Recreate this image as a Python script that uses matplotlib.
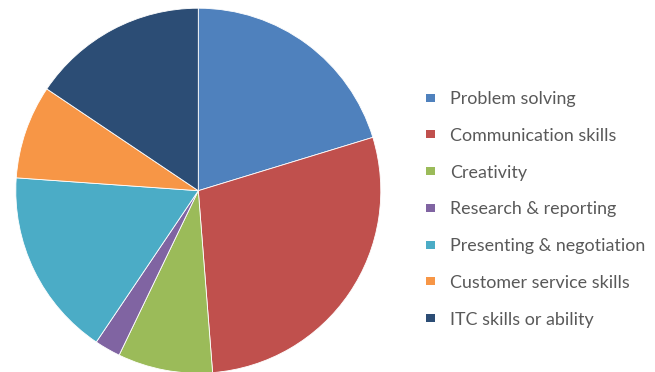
import matplotlib.pyplot as plt
from matplotlib.patches import Rectangle

labels = ['Problem solving', 'Communication skills', 'Creativity',
          'Research & reporting', 'Presenting & negotiation',
          'Customer service skills', 'ITC skills or ability']
values = [20.3, 28.5, 8.4, 2.3, 16.7, 8.3, 15.6]
colors = ['#4F81BD', '#C0504D', '#9BBB59', '#8064A2', '#4BACC6', '#F79646', '#2C4D75']

W, H = 655, 372
fig = plt.figure(figsize=(W / 100, H / 100), dpi=100)

# pie centre ~ (198, 191) px, radius ~182 px
cx, cy, r = 198.3, 190.7, 182.5
ax = fig.add_axes([(cx - r) / W, (H - cy - r) / H, 2 * r / W, 2 * r / H])
ax.pie(values, colors=colors, startangle=90, counterclock=False, radius=1,
       wedgeprops=dict(edgecolor='white', linewidth=0.6))
ax.set_xlim(-1, 1)
ax.set_ylim(-1, 1)
ax.set_aspect('auto')
ax.axis('off')

# legend drawn by hand
base0, step = 104.3, 36.7
for i, (lab, col) in enumerate(zip(labels, colors)):
    yb = base0 + i * step
    fig.patches.append(Rectangle((426 / W, (H - yb + 2.6) / H), 9 / W, 8 / H,
                                 facecolor=col, edgecolor='none',
                                 transform=fig.transFigure, figure=fig))
    fig.text(450 / W, (H - yb) / H, lab, fontsize=12.9, family='Lato',
             color='#595959', va='baseline', ha='left')

plt.savefig('out.png', dpi=100)
